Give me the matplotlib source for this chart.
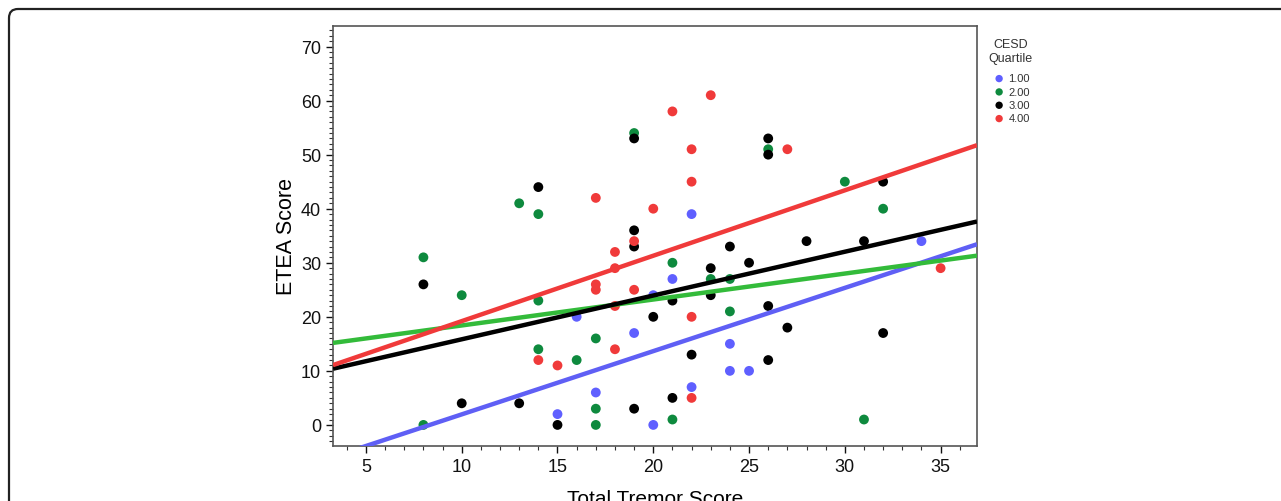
import matplotlib
matplotlib.use("Agg")
import matplotlib.pyplot as plt
from matplotlib.patches import FancyBboxPatch
from matplotlib.ticker import MultipleLocator
from matplotlib.transforms import IdentityTransform
import numpy as np

plt.rcParams['font.family'] = ['Liberation Sans', 'DejaVu Sans']

# Data: (Total Tremor Score, ETEA Score) per CESD quartile
q1_x = [15, 16, 17, 19, 20, 20, 21, 22, 22, 24, 24, 25, 34]
q1_y = [2, 20, 6, 17, 0, 24, 27, 39, 7, 15, 10, 10, 34]

q2_x = [8, 8, 10, 13, 14, 14, 14, 16, 17, 17, 17, 19, 21, 21, 23, 24, 24, 26, 30, 31, 32]
q2_y = [31, 0, 24, 41, 39, 23, 14, 12, 16, 3, 0, 54, 30, 1, 27, 27, 21, 51, 45, 1, 40]

q3_x = [8, 10, 13, 14, 15, 19, 19, 19, 19, 20, 21, 21, 22, 23, 23, 24, 25, 26, 26, 26, 26, 27, 28, 31, 32, 32]
q3_y = [26, 4, 4, 44, 0, 53, 36, 33, 3, 20, 23, 5, 13, 29, 24, 33, 30, 53, 50, 22, 12, 18, 34, 34, 45, 17]

q4_x = [14, 15, 17, 17, 17, 18, 18, 18, 18, 19, 19, 20, 21, 22, 22, 22, 22, 23, 27, 35]
q4_y = [12, 11, 42, 26, 25, 32, 29, 22, 14, 34, 25, 40, 58, 51, 45, 20, 5, 61, 51, 29]

# Fit lines (slope, intercept)
fit_q1 = (1.17, -9.75)
fit_q2 = (0.48, 13.6)
fit_q3 = (0.81, 7.74)
fit_q4 = (1.21, 7.1)

labels = ["1.00", "2.00", "3.00", "4.00"]
marker_colors = ["#5f5fff", "#0e8a3e", "#000000", "#f03a3a"]
line_colors = ["#5f5ff5", "#33bb3a", "#000000", "#f03a3a"]

fig = plt.figure(figsize=(12.81, 5.02), dpi=100)
ax = fig.add_axes([333/1281, 1-447/502, (977-333)/1281, (447-27)/502])

xlim = (3.28, 36.9)
ax.set_xlim(*xlim)
ax.set_ylim(-3.9, 73.8)

xs = np.array(xlim)
series = [(q1_x, q1_y, fit_q1), (q2_x, q2_y, fit_q2), (q3_x, q3_y, fit_q3), (q4_x, q4_y, fit_q4)]
for (x, y, fit), lab, mc in zip(series, labels, marker_colors):
    ax.scatter(x, y, s=50, color=mc, edgecolors='none', label=lab, zorder=3)
for (x, y, fit), lc in zip(series, line_colors):
    ax.plot(xs, fit[0]*xs + fit[1], color=lc, lw=3.2, zorder=4, solid_capstyle='butt')

ax.xaxis.set_major_locator(MultipleLocator(5))
ax.xaxis.set_minor_locator(MultipleLocator(1))
ax.yaxis.set_major_locator(MultipleLocator(10))
ax.yaxis.set_minor_locator(MultipleLocator(1))
ax.tick_params(axis='both', which='major', direction='out', length=5, width=1, labelsize=13, colors='#111111')
ax.tick_params(axis='both', which='minor', direction='out', length=3, width=0.8, colors='#333333')
ax.tick_params(axis='x', which='both', top=False)
ax.tick_params(axis='y', which='both', right=False)
for s in ax.spines.values():
    s.set_color('#555555')
    s.set_linewidth(1.2)

ax.set_xlabel("Total Tremor Score", fontsize=15, labelpad=10)
ax.set_ylabel("ETEA Score", fontsize=15.5, labelpad=3)

leg = ax.legend(title="CESD\nQuartile", loc='upper left', bbox_to_anchor=(1.006, 0.99),
                frameon=False, fontsize=8, title_fontsize=9, handletextpad=0.15,
                labelspacing=0.3, markerscale=0.75, borderaxespad=0.3, handlelength=1.4)
leg._legend_box.align = "center"
leg._legend_box.sep = 7
leg.get_title().set_multialignment('center')
leg.get_title().set_color('#333333')
for t in leg.get_texts():
    t.set_color('#333333')

# outer rounded frame (pixel coordinates)
frame = FancyBboxPatch((9, -100), 1400, 492 + 100,
                       boxstyle="round,pad=0,rounding_size=9",
                       transform=IdentityTransform(), fill=False, edgecolor='#222222', lw=1.6)
fig.patches.append(frame)

fig.savefig("out.png", dpi=100)
